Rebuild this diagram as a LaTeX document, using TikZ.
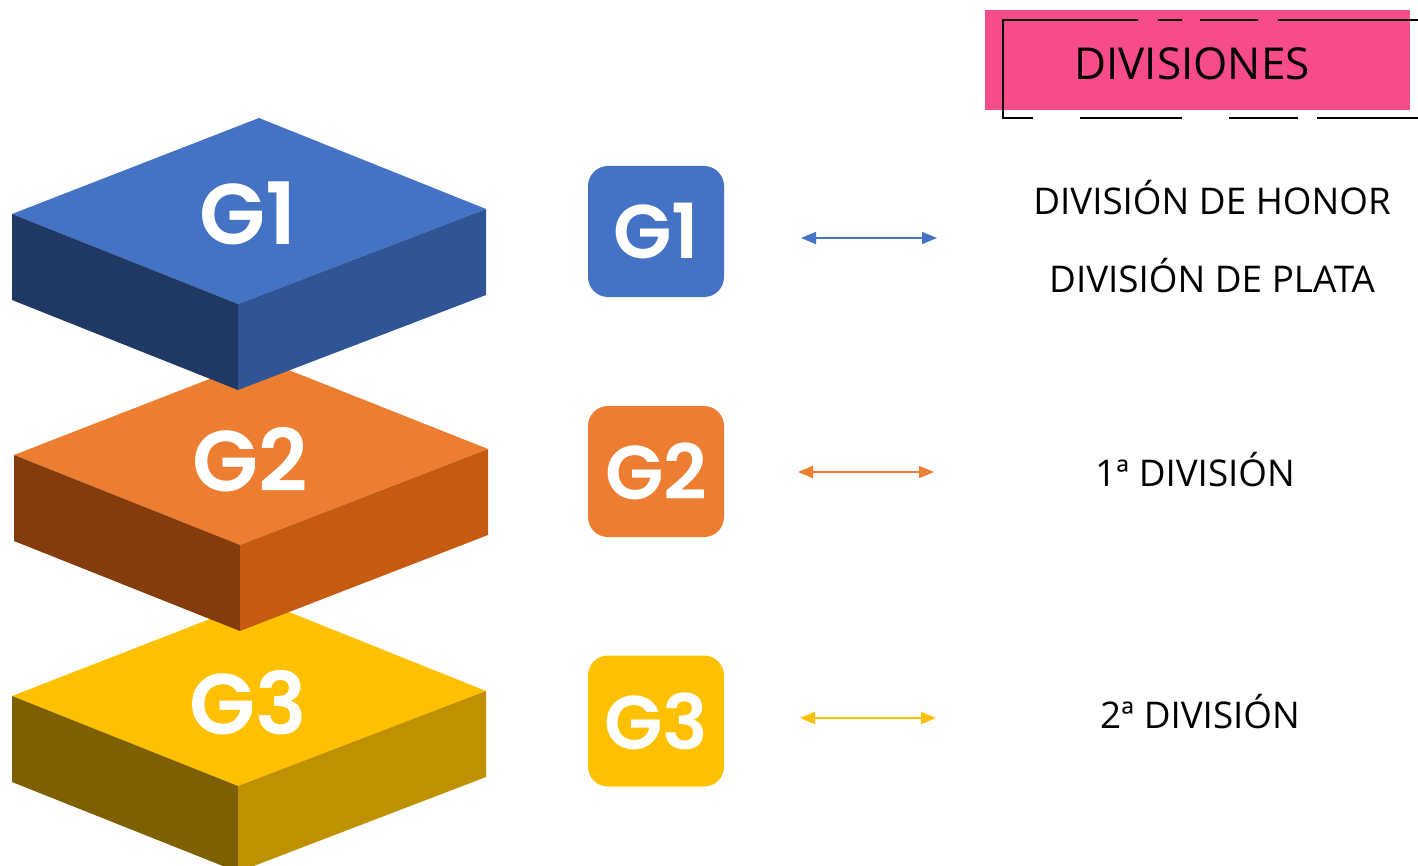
\documentclass[tikz,border=0pt]{standalone}
\usepackage{fontspec}
\setmainfont{Open Sans}
\newfontfamily\gfont{Poppins}[BoldFont={Poppins SemiBold}]
\usetikzlibrary{arrows.meta}
\definecolor{gblue}{HTML}{4472C4}
\definecolor{gblueL}{HTML}{203864}
\definecolor{gblueR}{HTML}{2F5597}
\definecolor{gorange}{HTML}{ED7D31}
\definecolor{gorangeL}{HTML}{843C0C}
\definecolor{gorangeR}{HTML}{C55A11}
\definecolor{gyellow}{HTML}{FFC000}
\definecolor{gyellowL}{HTML}{7F6000}
\definecolor{gyellowR}{HTML}{BF9000}
\definecolor{gpink}{HTML}{F64C8A}
\tikzset{
  grouptag/.style={rounded corners=10pt, minimum width=68pt, minimum height=65.5pt,
    inner sep=0pt, text=white, font={\gfont\bfseries\fontsize{38pt}{40pt}\selectfont}},
  blocklabel/.style={text=white, inner sep=0pt, font={\gfont\bfseries\fontsize{43pt}{45pt}\selectfont}},
  divtext/.style={inner sep=0pt, font={\fontsize{18.4pt}{20pt}\selectfont}},
  linkarrow/.style={{Triangle[length=7.5pt,width=6pt]}-{Triangle[length=7.5pt,width=6pt]}, line width=0.8pt}}

\begin{document}
\begin{tikzpicture}[x=0.5pt,y=-0.5pt]
\useasboundingbox (0,0) rectangle (1418,866);
% header
\fill [gpink] (985,10) rectangle (1410,110);
\draw [black, line width=1pt] (1138,20) -- (1003,20) -- (1003,118) -- (1033,118);
\draw [black, line width=1pt] (1158,20) -- (1182,20);
\draw [black, line width=1pt] (1200,20) -- (1258,20);
\draw [black, line width=1pt] (1278,20) -- (1420,20);
\draw [black, line width=1pt] (1080,118) -- (1182,118);
\draw [black, line width=1pt] (1229,118) -- (1298,118);
\draw [black, line width=1pt] (1317,118) -- (1420,118);
\node [divtext, font={\fontsize{22pt}{24pt}\selectfont}] (title) at (1192,64) {DIVISIONES};
% G3 block
\fill [gyellow] (12,696) -- (259,600) -- (486,691) -- (238,786) -- cycle;
\fill [gyellowL] (12,696) -- (238,786) -- (238,872) -- (12,782) -- cycle;
\fill [gyellowR] (238,786) -- (486,691) -- (486,777) -- (238,872) -- cycle;
\node [blocklabel] (b3) at (248,703) {G3};
% G2 block
\fill [gorange] (14,455) -- (261,359) -- (488,449) -- (240,545) -- cycle;
\fill [gorangeL] (14,455) -- (240,545) -- (240,631) -- (14,541) -- cycle;
\fill [gorangeR] (240,545) -- (488,449) -- (488,535) -- (240,631) -- cycle;
\node [blocklabel] (b2) at (250,460) {G2};
% G1 block
\fill [gblue] (12,214) -- (259,118) -- (486,209) -- (238,304) -- cycle;
\fill [gblueL] (12,214) -- (238,304) -- (238,390) -- (12,300) -- cycle;
\fill [gblueR] (238,304) -- (486,209) -- (486,295) -- (238,390) -- cycle;
\node [blocklabel] (b1) at (248,213) {G1};
% tags
\node [grouptag, fill=gblue] (t1) at (656,231.5) {G1};
\node [grouptag, fill=gorange] (t2) at (656,471.5) {G2};
\node [grouptag, fill=gyellow] (t3) at (656,721) {G3};
% arrows
\coordinate (a1l) at (801,238);
\coordinate (a1r) at (937,238);
\coordinate (a2l) at (798,472);
\coordinate (a2r) at (934,472);
\coordinate (a3l) at (800,718);
\coordinate (a3r) at (936,718);
\draw [linkarrow, gblue] (a1l) -- (a1r);
\draw [linkarrow, gorange] (a2l) -- (a2r);
\draw [linkarrow, gyellow] (a3l) -- (a3r);
% divisions
\node [divtext] (honor) at (1212,198) {DIVISIÓN DE HONOR};
\node [divtext] (plata) at (1212,276) {DIVISIÓN DE PLATA};
\node [divtext] (div1) at (1195,470) {1ª DIVISIÓN};
\node [divtext] (div2) at (1200,712) {2ª DIVISIÓN};
\end{tikzpicture}
\end{document}
